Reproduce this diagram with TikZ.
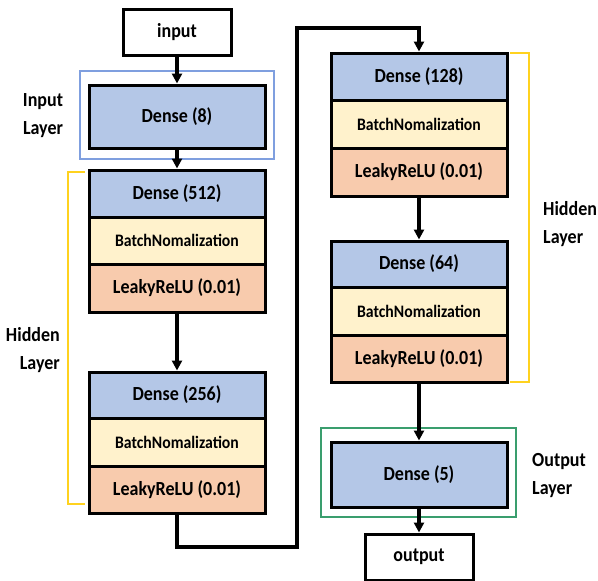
\documentclass[tikz,border=0pt]{standalone}
\usepackage{fontspec}
\setmainfont{Carlito}[FakeStretch=0.9]
\usetikzlibrary{arrows.meta}
\definecolor{denseblue}{HTML}{B4C7E7}
\definecolor{bnyellow}{HTML}{FFF2CC}
\definecolor{leakyorange}{HTML}{F8CBAD}
\definecolor{inframe}{HTML}{7F9FDF}
\definecolor{outframe}{HTML}{3A9E6E}
\definecolor{brack}{HTML}{FFD21F}
\tikzset{
  blk/.style={draw=black, line width=3pt, minimum width=176pt, inner sep=0pt, font=\fontsize{20}{24}\selectfont\bfseries},
  densebox/.style={blk, fill=denseblue},
  bnbox/.style={blk, fill=bnyellow, font=\fontsize{17.5}{21}\selectfont\bfseries},
  leakybox/.style={blk, fill=leakyorange},
  iobox/.style={draw=black, line width=3pt, fill=white, minimum width=108pt, minimum height=46pt, inner sep=0pt, font=\fontsize{20}{24}\selectfont\bfseries},
  flow/.style={draw=black, line width=3.2pt, -{Triangle[length=10pt,width=10pt]}},
  lbl/.style={font=\fontsize{20}{28}\selectfont\bfseries, inner sep=0pt},
  bracketline/.style={draw=brack, line width=2pt},
}
\begin{document}
\begin{tikzpicture}[x=1pt,y=-1pt]
\useasboundingbox[fill=white] (0,0) rectangle (598,581);

% frames
\draw[inframe, line width=2pt] (80,71) rectangle (274,159);
\draw[outframe, line width=2pt] (321,428) rectangle (516,517);

% brackets
\draw[bracketline] (85,172) -- (68,172) -- (68,504) -- (85,504);
\draw[bracketline] (510,53) -- (529,53) -- (529,382) -- (510,382);

% input / output
\node[iobox] (in) at (177,32) {input};
\node[iobox] (out) at (419,557) {output};

% input layer
\node[densebox, minimum height=63pt] (d8) at (177,116.5) {Dense (8)};

% left hidden stacks
\node[densebox, minimum height=47pt] (d512) at (177,193.5) {Dense (512)};
\node[bnbox, minimum height=47pt] (b512) at (177,240.5) {BatchNomalization};
\node[leakybox, minimum height=48pt] (l512) at (177,288) {LeakyReLU (0.01)};

\node[densebox, minimum height=46pt] (d256) at (177,395) {Dense (256)};
\node[bnbox, minimum height=48pt] (b256) at (177,442) {BatchNomalization};
\node[leakybox, minimum height=47pt] (l256) at (177,489.5) {LeakyReLU (0.01)};

% right hidden stacks
\node[densebox, minimum height=47pt] (d128) at (419,76.5) {Dense (128)};
\node[bnbox, minimum height=48pt] (b128) at (419,124) {BatchNomalization};
\node[leakybox, minimum height=48pt] (l128) at (419,172) {LeakyReLU (0.01)};

\node[densebox, minimum height=46pt] (d64) at (419,264) {Dense (64)};
\node[bnbox, minimum height=48pt] (b64) at (419,311) {BatchNomalization};
\node[leakybox, minimum height=47pt] (l64) at (419,358.5) {LeakyReLU (0.01)};

% output layer
\node[densebox, minimum height=65pt] (d5) at (419,474.5) {Dense (5)};

% labels
\node[lbl, align=center] (lin) at (43,116) {Input\\Layer};
\node[lbl, align=right, anchor=east] (lh1) at (60,350) {Hidden\\Layer};
\node[lbl, align=left, anchor=west] (lh2) at (543,224) {Hidden\\Layer};
\node[lbl, align=left, anchor=west] (lout) at (532,476) {Output\\Layer};

% connectors
\draw[flow] (in.south) -- (d8.north);
\draw[flow] (d8.south) -- (d512.north);
\draw[flow] (l512.south) -- (d256.north);
\coordinate (c1) at (297,547);
\coordinate (c2) at (297,28);
\draw[flow] (l256.south) |- (c1) -- (c2) -| (d128.north);
\draw[flow] (l128.south) -- (d64.north);
\draw[flow] (l64.south) -- (d5.north);
\draw[flow] (d5.south) -- (out.north);
\end{tikzpicture}
\end{document}
